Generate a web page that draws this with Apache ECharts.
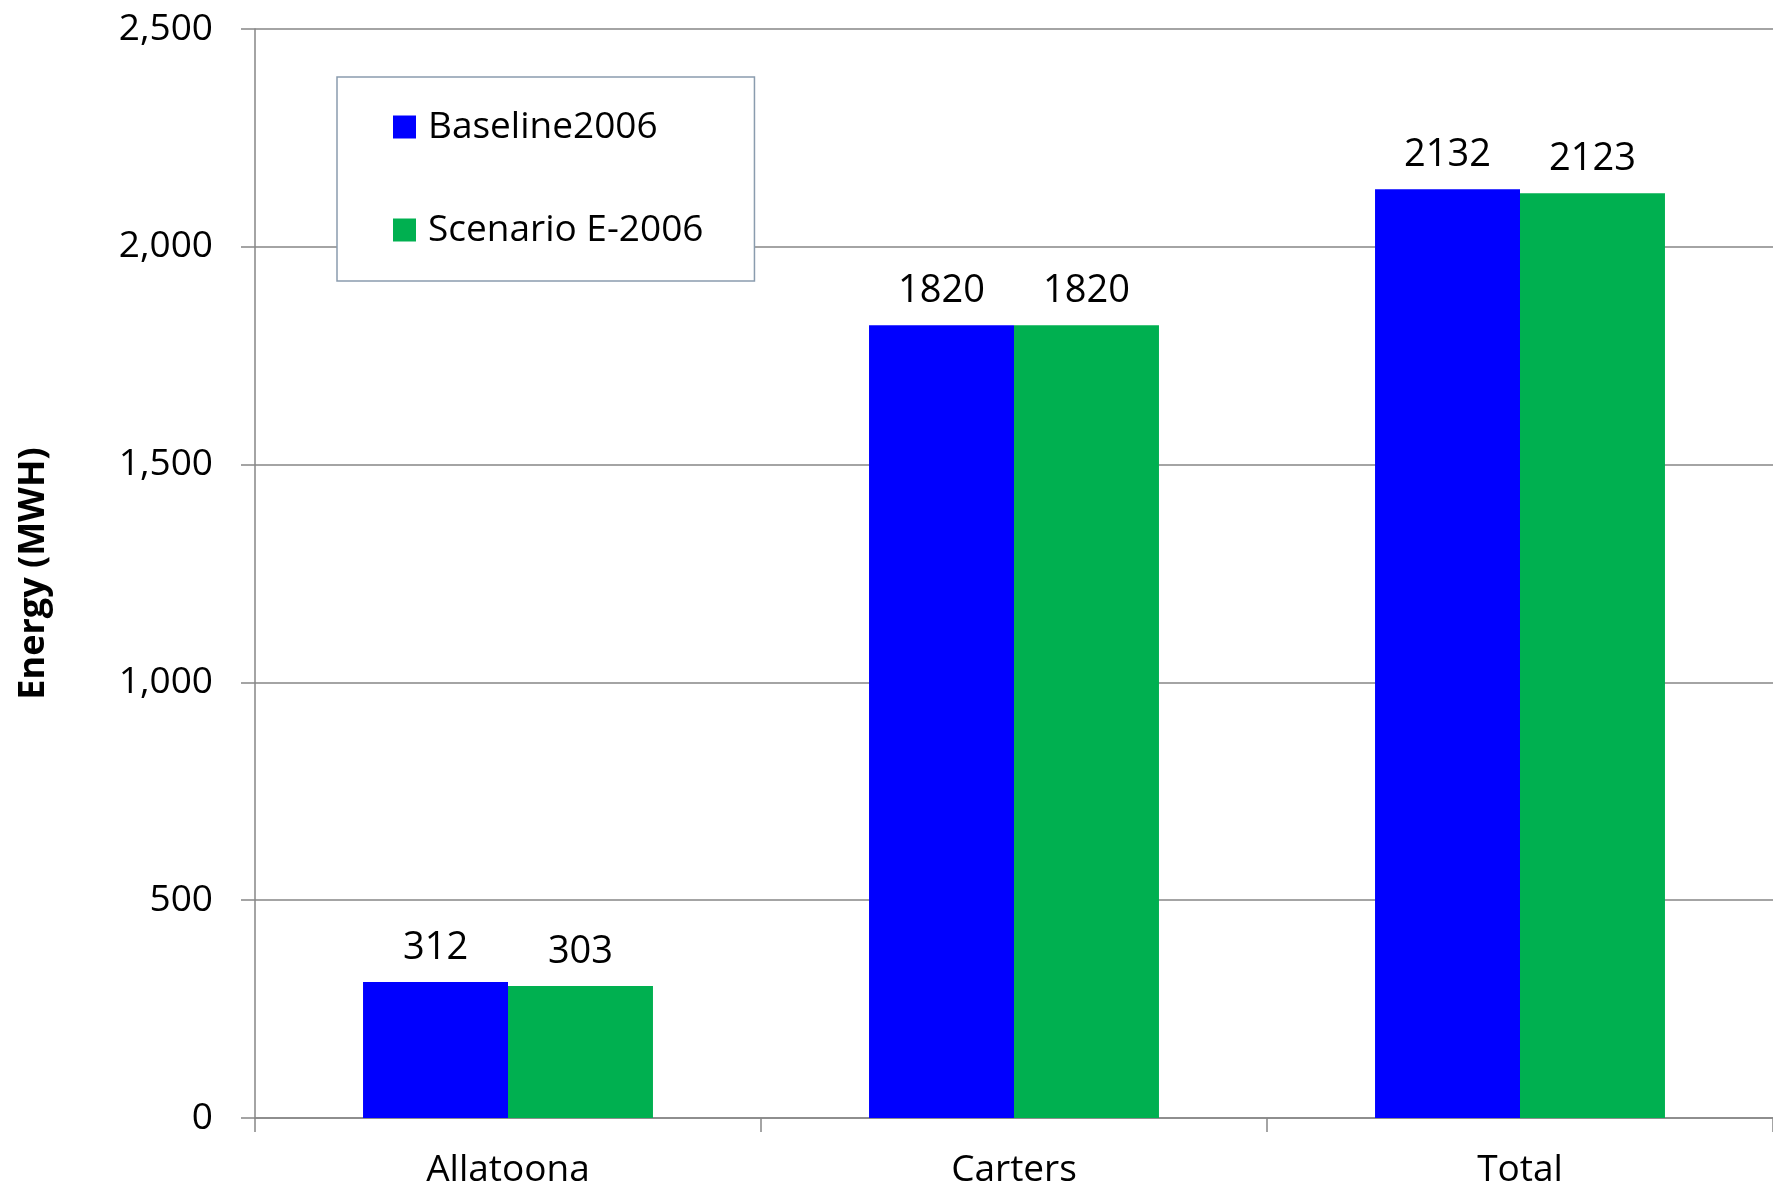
<!DOCTYPE html>
<html>
<head>
<meta charset="utf-8">
<script src="https://cdn.jsdelivr.net/npm/echarts@6/dist/echarts.min.js"></script>
<style>
html,body{margin:0;padding:0;background:#fff;}
#chart{width:1773px;height:1189px;}
</style>
</head>
<body>
<div id="chart"></div>
<script>
const categories = ['Allatoona', 'Carters', 'Total'];
const baseline2006 = [312, 1820, 2132];
const scenarioE2006 = [303, 1820, 2123];
const seriesNames = ['Baseline2006', 'Scenario E-2006'];
const yTicks = { min: 0, max: 2500, interval: 500 };

const FONT = '"Open Sans", "Noto Sans", sans-serif';
const gray = '#868686';

const chart = echarts.init(document.getElementById('chart'));
chart.setOption({
  animation: false,
  backgroundColor: '#fff',
  textStyle: { fontFamily: FONT },
  grid: { left: 255, right: -5, top: 29, bottom: 70, containLabel: false },
  legend: {
    orient: 'vertical',
    left: 337,
    top: 77,
    padding: [30, 51, 31, 56],
    backgroundColor: '#fff',
    borderColor: '#8a9cae',
    borderWidth: 1.5,
    borderRadius: 0,
    itemWidth: 23,
    itemHeight: 23,
    itemGap: 63,
    icon: 'rect',
    textStyle: { fontFamily: FONT, fontSize: 37, color: '#000', lineHeight: 40, padding: [0, 0, 0, 7] },
    data: seriesNames
  },
  xAxis: {
    type: 'category',
    data: categories,
    axisLine: { show: true, lineStyle: { color: gray, width: 1.5 } },
    axisTick: { show: true, length: 14, lineStyle: { color: gray, width: 1.5 } },
    axisLabel: { fontFamily: FONT, fontSize: 37, color: '#000', margin: 34 }
  },
  yAxis: {
    type: 'value',
    min: yTicks.min,
    max: yTicks.max,
    interval: yTicks.interval,
    name: 'Energy (MWH)',
    nameLocation: 'middle',
    nameGap: 203,
    nameTextStyle: { fontFamily: FONT, fontSize: 36, fontWeight: 'bold', color: '#000' },
    axisLine: { show: true, lineStyle: { color: gray, width: 1.5 } },
    axisTick: { show: true, length: 14, lineStyle: { color: gray, width: 1.5 } },
    splitLine: { show: true, lineStyle: { color: gray, width: 1.5 } },
    axisLabel: {
      fontFamily: FONT, fontSize: 37, color: '#000', margin: 42,
      formatter: v => v.toLocaleString('en-US')
    }
  },
  series: [
    {
      name: seriesNames[0],
      type: 'bar',
      data: baseline2006,
      barGap: '0%',
      barCategoryGap: '42.7%',
      itemStyle: { color: '#0000FF' },
      label: { show: true, position: 'top', distance: 15, fontFamily: FONT, fontSize: 38, color: '#000' }
    },
    {
      name: seriesNames[1],
      type: 'bar',
      data: scenarioE2006,
      barGap: '0%',
      barCategoryGap: '42.7%',
      itemStyle: { color: '#00B050' },
      label: { show: true, position: 'top', distance: 15, fontFamily: FONT, fontSize: 38, color: '#000' }
    }
  ]
});
</script>
</body>
</html>
